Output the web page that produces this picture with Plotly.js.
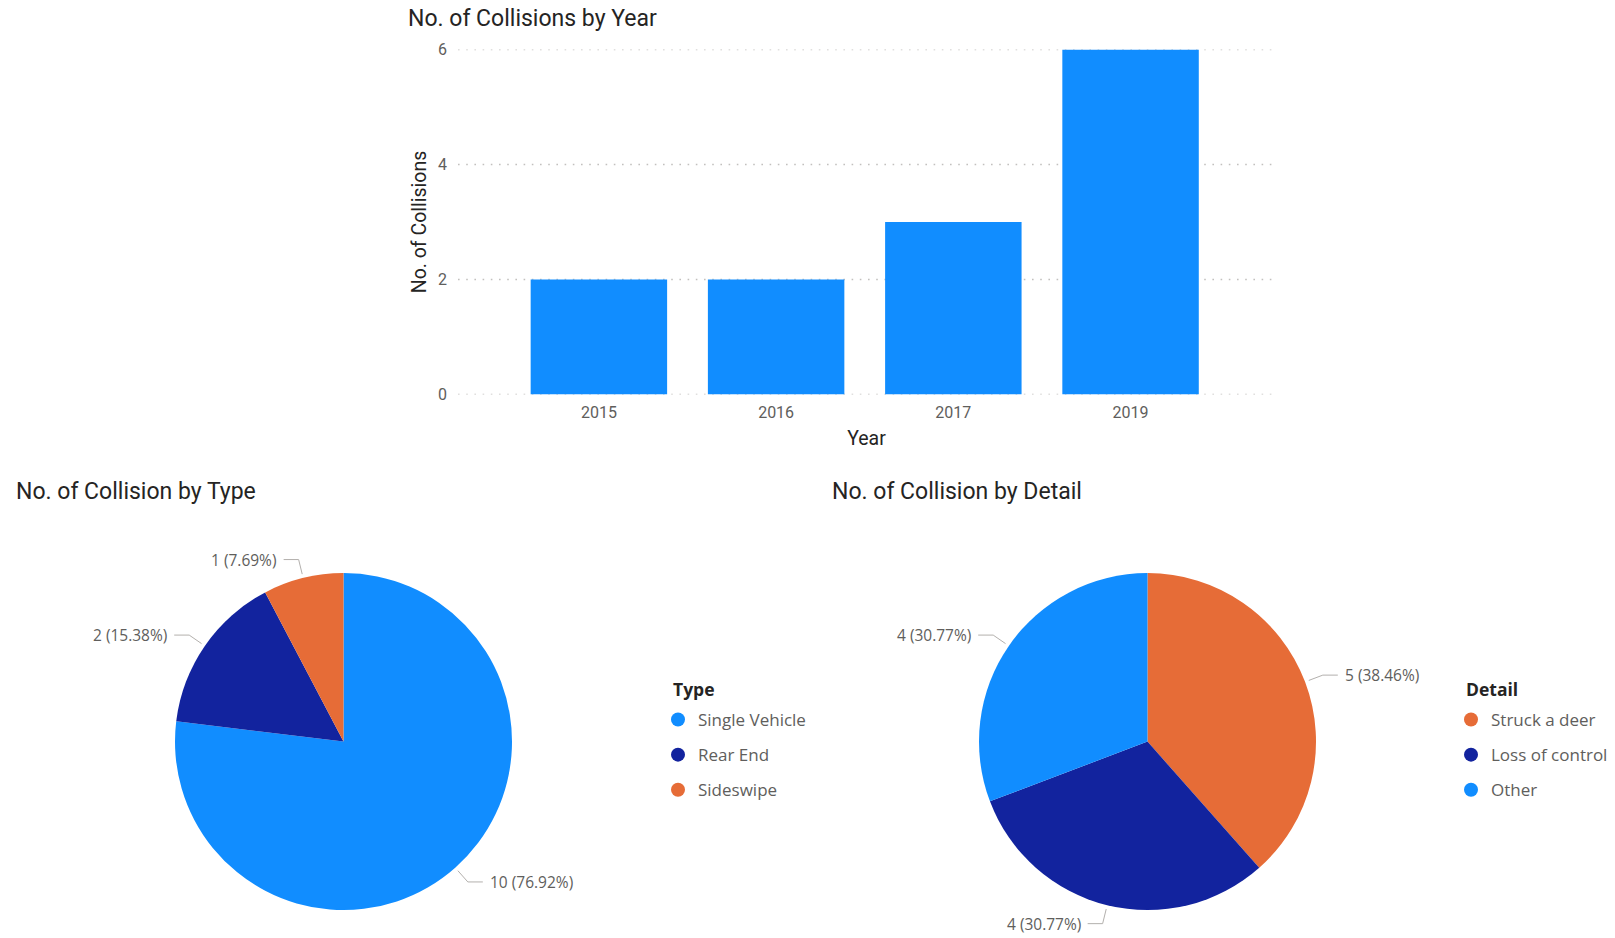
<!DOCTYPE html>
<html>
<head>
<meta charset="utf-8">
<script src="https://cdn.plot.ly/plotly-3.0.1.min.js"></script>
<style>html,body{margin:0;padding:0;background:#fff;}#chart{width:1615px;height:938px;}</style>
</head>
<body>
<div id="chart"></div>
<script>
// ---- data ----
const years = ['2015', '2016', '2017', '2019'];
const collisionsByYear = [2, 2, 3, 6];
const yTicks = [0, 2, 4, 6];

const types = ['Single Vehicle', 'Rear End', 'Sideswipe'];
const typeCounts = [10, 2, 1];
const typeColors = ['#118DFF', '#12239E', '#E66C37'];

const details = ['Struck a deer', 'Loss of control', 'Other'];
const detailCounts = [5, 4, 4];
const detailColors = ['#E66C37', '#12239E', '#118DFF'];

// ---- layout helpers ----
const W = 1615, H = 938;
const px = x => x / W;
const py = y => 1 - y / H;
const SANS = 'Open Sans, Noto Sans, sans-serif';
const LBL_FONT = {family: SANS, size: 15.5, color: '#605E5C'};
const TITLE_FONT = {family: 'Roboto, sans-serif', size: 23, color: '#252423'};

const pie1 = {cx: 343.5, cy: 741.6, r: 168.5};
const pie2 = {cx: 1147.5, cy: 741.6, r: 168.5};

function pieDomain(p) {
  return {x: [px(p.cx - p.r), px(p.cx + p.r)], y: [py(p.cy + p.r), py(p.cy - p.r)]};
}

const shapes = [];
const annotations = [];

// dotted gridlines of the bar chart, one per y tick value
yTicks.forEach(v => shapes.push({
  type: 'line', xref: 'x domain', yref: 'y', x0: 0, x1: 1, y0: v, y1: v, layer: 'below',
  line: {color: '#C2C0BE', width: 1.6, dash: '1.6px,6.6px'}
}));

function pieLabels(p, values) {
  const total = values.reduce((a, b) => a + b, 0);
  let cum = 0;
  values.forEach(v => {
    const th = 2 * Math.PI * (cum + v / 2) / total;
    cum += v;
    const ux = Math.sin(th), uy = -Math.cos(th);
    const side = ux >= 0 ? 1 : -1;
    const x0 = p.cx + (p.r + 4) * ux, y0 = p.cy + (p.r + 4) * uy;
    const x1 = p.cx + (p.r + 19) * ux, y1 = p.cy + (p.r + 19) * uy;
    const x2 = x1 + side * 15;
    shapes.push({
      type: 'path', xref: 'paper', yref: 'paper',
      path: `M ${px(x0)} ${py(y0)} L ${px(x1)} ${py(y1)} L ${px(x2)} ${py(y1)}`,
      line: {color: '#B3B0AD', width: 1}
    });
    annotations.push({
      xref: 'paper', yref: 'paper', x: px(x2 + side * 5), y: py(y1),
      xanchor: side > 0 ? 'left' : 'right', yanchor: 'middle', showarrow: false,
      text: v + ' (' + (v / total * 100).toFixed(2) + '%)', font: LBL_FONT
    });
  });
}
pieLabels(pie1, typeCounts);
pieLabels(pie2, detailCounts);

annotations.push(
  {xref: 'paper', yref: 'paper', x: px(406), y: py(18), xanchor: 'left', yanchor: 'middle', showarrow: false,
   text: 'No. of Collisions by Year', font: TITLE_FONT},
  {xref: 'paper', yref: 'paper', x: px(14), y: py(491), xanchor: 'left', yanchor: 'middle', showarrow: false,
   text: 'No. of Collision by Type', font: TITLE_FONT},
  {xref: 'paper', yref: 'paper', x: px(830), y: py(491), xanchor: 'left', yanchor: 'middle', showarrow: false,
   text: 'No. of Collision by Detail', font: TITLE_FONT},
  {xref: 'paper', yref: 'paper', x: px(671), y: py(689), xanchor: 'left', yanchor: 'middle', showarrow: false,
   text: '<b>Type</b>', font: {family: SANS, size: 17.5, color: '#252423'}},
  {xref: 'paper', yref: 'paper', x: px(1464), y: py(689), xanchor: 'left', yanchor: 'middle', showarrow: false,
   text: '<b>Detail</b>', font: {family: SANS, size: 17.5, color: '#252423'}}
);

// ---- traces ----
const traces = [];
traces.push({
  type: 'bar', x: years, y: collisionsByYear, xaxis: 'x', yaxis: 'y',
  marker: {color: '#118DFF'}, showlegend: false, hoverinfo: 'x+y'
});
traces.push({
  type: 'pie', labels: types, values: typeCounts, sort: false, direction: 'clockwise', rotation: 0,
  marker: {colors: typeColors}, textinfo: 'none', showlegend: false, domain: pieDomain(pie1)
});
traces.push({
  type: 'pie', labels: details, values: detailCounts, sort: false, direction: 'clockwise', rotation: 0,
  marker: {colors: detailColors}, textinfo: 'none', showlegend: false, domain: pieDomain(pie2)
});
// legend entries with circular markers
types.forEach((t, i) => traces.push({
  type: 'scatter', mode: 'markers', x: [null], y: [null], xaxis: 'x2', yaxis: 'y2',
  name: t, legend: 'legend', legendgroup: 't' + i, marker: {color: typeColors[i], size: 14, symbol: 'circle'}
}));
details.forEach((d, i) => traces.push({
  type: 'scatter', mode: 'markers', x: [null], y: [null], xaxis: 'x2', yaxis: 'y2',
  name: d, legend: 'legend2', legendgroup: 'd' + i, marker: {color: detailColors[i], size: 14, symbol: 'circle'}
}));

const LEG_FONT = {family: SANS, size: 17, color: '#605E5C'};
const legendBase = {
  xanchor: 'left', yanchor: 'top', bgcolor: 'rgba(0,0,0,0)', font: LEG_FONT,
  traceorder: 'grouped', tracegroupgap: 10, itemclick: false, itemdoubleclick: false
};

const TICK_FONT = {family: 'Roboto, sans-serif', size: 16, color: '#605E5C'};
const AXT_FONT = {family: 'Roboto, sans-serif', size: 19.5, color: '#252423'};

const layout = {
  width: W, height: H,
  margin: {l: 0, r: 0, t: 0, b: 0},
  paper_bgcolor: '#fff', plot_bgcolor: '#fff',
  showlegend: true,
  bargap: 0.23,
  xaxis: {
    domain: [px(458), px(1275)], type: 'category', range: [-0.795, 3.815],
    showgrid: false, zeroline: false, showline: false, ticks: '', ticklabelstandoff: 6,
    tickfont: TICK_FONT,
    title: {text: 'Year', font: AXT_FONT, standoff: 10},
    fixedrange: true
  },
  yaxis: {
    domain: [py(394.5), py(49.5)], range: [0, 6], tickvals: yTicks,
    showgrid: false, zeroline: false, showline: false, ticks: '', ticklabelstandoff: 10,
    tickfont: TICK_FONT,
    title: {text: 'No. of Collisions', font: AXT_FONT, standoff: 6},
    fixedrange: true
  },
  xaxis2: {visible: false, domain: [0, 0.01], anchor: 'y2'},
  yaxis2: {visible: false, domain: [0, 0.01], anchor: 'x2'},
  legend: Object.assign({}, legendBase, {x: px(658), y: py(702)}),
  legend2: Object.assign({}, legendBase, {x: px(1451), y: py(702)}),
  shapes: shapes,
  annotations: annotations
};

Plotly.newPlot('chart', traces, layout, {displayModeBar: false});
</script>
</body>
</html>
